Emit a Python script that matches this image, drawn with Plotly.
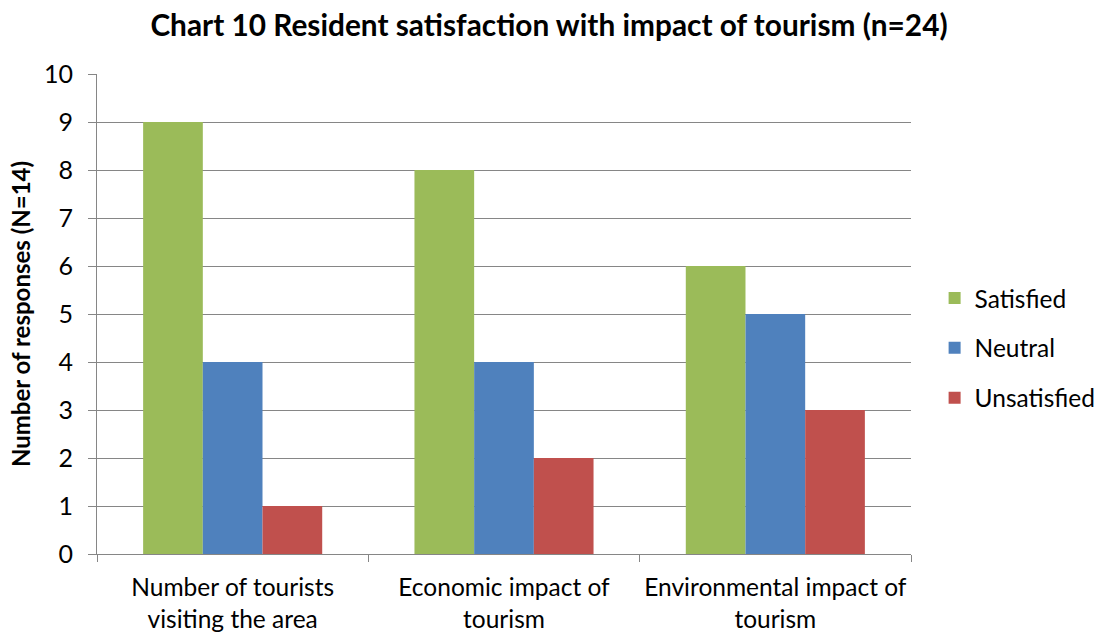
import plotly.graph_objects as go

categories = ["Number of tourists<br>visiting the area", "Economic impact of<br>tourism", "Environmental impact of<br>tourism"]
satisfied = [9, 8, 6]
neutral = [4, 4, 5]
unsatisfied = [1, 2, 3]
series_names = ["Satisfied", "Neutral", "Unsatisfied"]
colors = ["#9BBB59", "#4F81BD", "#C0504D"]

FONT = "Lato"
fig = go.Figure()
for i, (name, vals) in enumerate(zip(series_names, [satisfied, neutral, unsatisfied])):
    fig.add_trace(go.Bar(x=categories, y=vals, name=name, marker_color=colors[i],
                         marker_line_width=0, legendgroup=name))

fig.update_layout(
    width=1098, height=632,
    margin=dict(l=97, r=187, t=74, b=78, autoexpand=False),
    paper_bgcolor="white", plot_bgcolor="white",
    barmode="group", bargap=0.34, bargroupgap=0,
    font=dict(family=FONT, size=25, color="black"),
    title=dict(text="<b>Chart 10 Resident satisfaction with impact of tourism (n=24)</b>",
               x=0.5, xanchor="center", y=0.96, yanchor="middle",
               font=dict(family=FONT, size=29.8, color="black")),
    legend=dict(x=1.029, y=0.429, xanchor="left", yanchor="middle",
                font=dict(family=FONT, size=24.5), tracegroupgap=15,
                traceorder="grouped", itemwidth=30),
    showlegend=True,
)
fig.update_xaxes(type="category", tickson="boundaries", ticks="outside", ticklen=7,
                 tickcolor="#868686", showline=True, linecolor="#868686", linewidth=1,
                 showgrid=False, tickangle=0, ticklabelstandoff=12,
                 tickfont=dict(family=FONT, size=24.5))
fig.update_yaxes(range=[0, 10], dtick=1, ticks="outside", ticklen=8, tickcolor="#868686",
                 showline=True, linecolor="#868686", linewidth=1,
                 showgrid=True, gridcolor="#868686", gridwidth=1, zeroline=False,
                 tickfont=dict(family=FONT, size=25), ticklabelstandoff=10,
                 title=dict(text="<b>Number of responses (N=14)</b>", standoff=6,
                            font=dict(family=FONT, size=24)))
fig.write_html("out.html")
